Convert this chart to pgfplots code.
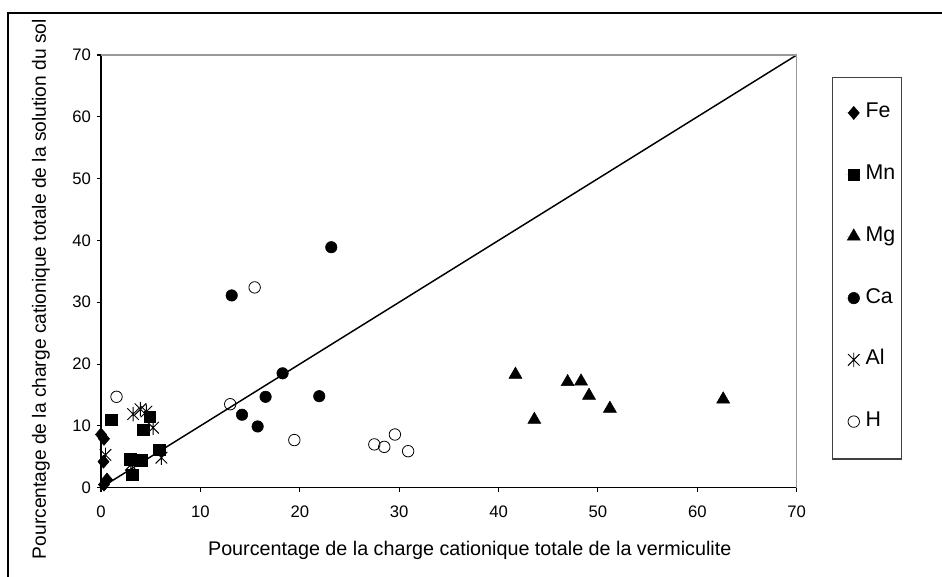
\documentclass[border=0pt]{standalone}
\usepackage{pgfplots}
\pgfplotsset{compat=1.18}
\usepackage{fontspec}
\setmainfont{Liberation Sans}
\pgfdeclareplotmark{xstar}{%
  \pgfpathmoveto{\pgfqpoint{0pt}{\pgfplotmarksize}}\pgfpathlineto{\pgfqpoint{0pt}{-\pgfplotmarksize}}%
  \pgfpathmoveto{\pgfqpoint{-0.8\pgfplotmarksize}{0.8\pgfplotmarksize}}\pgfpathlineto{\pgfqpoint{0.8\pgfplotmarksize}{-0.8\pgfplotmarksize}}%
  \pgfpathmoveto{\pgfqpoint{-0.8\pgfplotmarksize}{-0.8\pgfplotmarksize}}\pgfpathlineto{\pgfqpoint{0.8\pgfplotmarksize}{0.8\pgfplotmarksize}}%
  \pgfusepathqstroke}
\pgfdeclareplotmark{fdiamond}{%
  \pgfpathmoveto{\pgfqpoint{0pt}{\pgfplotmarksize}}%
  \pgfpathlineto{\pgfqpoint{0.85\pgfplotmarksize}{0pt}}%
  \pgfpathlineto{\pgfqpoint{0pt}{-\pgfplotmarksize}}%
  \pgfpathlineto{\pgfqpoint{-0.85\pgfplotmarksize}{0pt}}%
  \pgfpathclose\pgfusepathqfillstroke}
\begin{document}
\begin{tikzpicture}
\useasboundingbox (0,0) rectangle (706.5pt,432.75pt);
\draw[line width=0.9pt] (6pt,-10pt) -- (6pt,423pt) -- (720pt,423pt);
\begin{axis}[
  at={(75.75pt,67pt)}, anchor=south west,
  scale only axis, width=521.8pt, height=324.5pt,
  xmin=0, xmax=70, ymin=0, ymax=70,
  xtick={0,10,...,70}, ytick={0,10,...,70},
  axis lines*=left,
  axis line style={black, line width=0.9pt},
  tick style={black, line width=0.8pt},
  major tick length=3pt, tick align=outside,
  /pgf/number format/assume math mode=true,
  ticklabel style={font=\fontsize{12.5}{14}\selectfont},
  xticklabel style={yshift=-7pt},
  yticklabel style={xshift=-1pt},
  xlabel={Pourcentage de la charge cationique totale de la vermiculite},
  ylabel={Pourcentage de la charge cationique totale de la solution du sol},
  xlabel style={at={(axis description cs:0.530,-0.144)}, anchor=center, font=\fontsize{14.8}{16}\selectfont},
  ylabel style={at={(axis description cs:-0.0862,0.459)}, anchor=center, font=\fontsize{14.4}{16}\selectfont},
  clip=false,
  legend style={at={(axis description cs:1.0701,0.886)}, anchor=north west, draw=none, fill=none,
    font=\fontsize{16}{18}\selectfont, row sep=33.8pt, inner sep=0pt,
    nodes={text height=10pt, text depth=2.5pt, inner xsep=4pt, inner ysep=0pt}},
  legend cell align=left,
  legend image code/.code={\path[draw=none] (-6pt,0pt) -- (1pt,0pt); \draw[#1] plot coordinates {(0pt,0pt)};},
]
\addplot[black, line width=1.1pt, forget plot] coordinates {(0,0) (70,70)};
\addplot[only marks, mark=fdiamond, mark size=4.9pt, black, fill=black] coordinates {
(0,8.6) (0.3,7.9) (0.25,4.2) (0.6,1.3) (0.3,0.5)};
\addlegendentry{Fe}
\addplot[only marks, mark=square*, mark size=4.3pt, black, fill=black] coordinates {
(1.05,11.0) (4.9,11.5) (4.24,9.4) (2.96,4.6) (4.07,4.4) (3.13,2.05) (5.85,6.1)};
\addlegendentry{Mn}
\addplot[only marks, mark=triangle*, mark size=5.6pt, black, fill=black] coordinates {
(41.7,18.3) (43.6,11.0) (46.95,17.1) (48.3,17.2) (49.1,14.9) (51.2,12.8) (62.6,14.3)};
\addlegendentry{Mg}
\addplot[only marks, mark=*, mark size=4.3pt, black, fill=black] coordinates {
(13.15,31.1) (23.17,38.9) (18.27,18.5) (16.56,14.7) (14.19,11.8) (15.76,9.9) (21.96,14.8)};
\addlegendentry{Ca}
\addplot[only marks, mark=xstar, mark size=5.4pt, black, line width=0.7pt] coordinates {
(3.23,11.9) (3.97,12.7) (4.57,12.3) (5.24,9.7) (0.45,5.3) (6.08,4.85) (3.0,3.7)};
\addlegendentry{Al}
\addplot[only marks, mark=o, mark size=4.3pt, black, line width=0.6pt, mark options={fill=white}] coordinates {
(1.56,14.7) (15.46,32.4) (13.0,13.5) (19.45,7.7) (27.5,7.0) (28.5,6.6) (29.57,8.6) (30.9,5.9)};
\addlegendentry{H}
\draw[black!40, line width=0.9pt] (rel axis cs:0,1) -- (rel axis cs:1,1) -- (rel axis cs:1,0);
\draw[black!75, line width=0.8pt] (axis description cs:1.0518,0.949) rectangle (axis description cs:1.1510,0.0663);
\end{axis}
\end{tikzpicture}
\end{document}
